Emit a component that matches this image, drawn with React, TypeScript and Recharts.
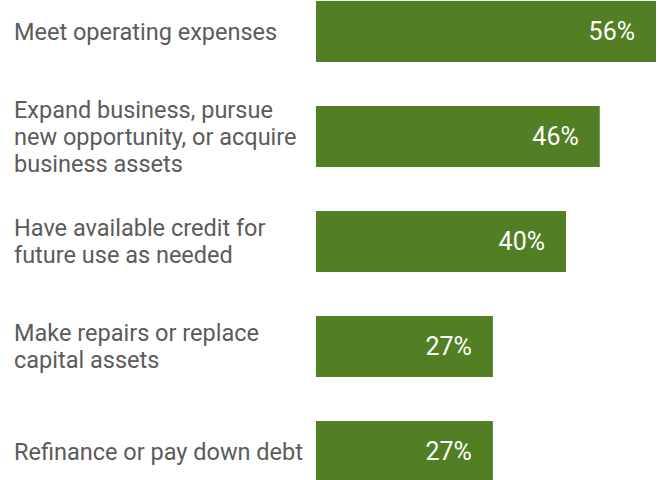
import { BarChart, Bar, XAxis, YAxis, LabelList } from 'recharts';

const categories = [
  'Meet operating expenses',
  'Expand business, pursue\nnew opportunity, or acquire\nbusiness assets',
  'Have available credit for\nfuture use as needed',
  'Make repairs or replace\ncapital assets',
  'Refinance or pay down debt'
];

const shares = [56, 46, 40, 27, 27];

const data = categories.map((name, i) => ({ name, value: shares[i] }));

const GREEN = '#537F24';
const LABEL_FS = 23.5;
const LINE_H = 27;

function CategoryTick(props: any) {
  const { y, payload } = props;
  const lines = String(payload.value).split('\n');
  const first = y - ((lines.length - 1) * LINE_H) / 2 + LABEL_FS * 0.355;
  return (
    <text x={14} y={first} textAnchor="start" fill="#5b5b5b" fontSize={LABEL_FS} fontFamily="Roboto">
      {lines.map((line, i) => (
        <tspan key={i} x={14} y={first + i * LINE_H}>
          {line}
        </tspan>
      ))}
    </text>
  );
}

// bars carry a fixed lead-in on the left like the original
function LeadBar(props: any) {
  const { x, y, width, height, fill } = props;
  return <rect x={x - 25} y={y} width={width + 25} height={height} fill={fill} />;
}

export default function App() {
  return (
    <div style={{ position: 'fixed', left: 0, top: 0, width: 659, height: 480, overflow: 'hidden', background: '#fff' }}>
      <div style={{ position: 'absolute', left: 0, top: -21 }}>
        <BarChart width={659} height={525} data={data} layout="vertical" margin={{ top: 0, right: 3, bottom: 0, left: 0 }}>
          <XAxis type="number" domain={[0, 56]} hide />
          <YAxis
            type="category"
            dataKey="name"
            width={341}
            axisLine={false}
            tickLine={false}
            tick={<CategoryTick />}
            interval={0}
          />
          <Bar dataKey="value" fill={GREEN} barSize={61} shape={<LeadBar />} isAnimationActive={false}>
            <LabelList
              dataKey="value"
              position="insideRight"
              offset={21}
              formatter={(v: any) => `${v}%`}
              fill="#ffffff"
              fontSize={25}
              fontFamily="Roboto"
            />
          </Bar>
        </BarChart>
      </div>
    </div>
  );
}
